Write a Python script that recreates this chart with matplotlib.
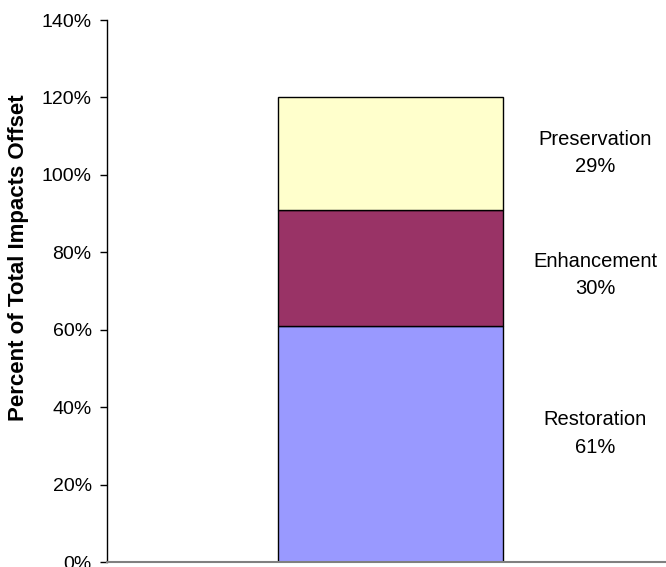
import matplotlib
matplotlib.use("Agg")
import matplotlib.pyplot as plt
from matplotlib.ticker import PercentFormatter

plt.rcParams['font.family'] = ['Liberation Sans', 'DejaVu Sans']

# Share of total impacts offset by mitigation type (stacked bottom to top)
categories = ['Restoration', 'Enhancement', 'Preservation']
shares = [61, 30, 29]
colors = ['#9999FF', '#993366', '#FFFFCC']
# nudge each side label off its segment's midpoint (percentage points)
label_nudge = [2.7, -1.8, 0.2]

fig = plt.figure(figsize=(6.66, 5.67), dpi=100)
ax = fig.add_axes([0.1607, 0.0088, 0.8393, 0.9559])

bottom = 0
for name, val, col, dy in zip(categories, shares, colors, label_nudge):
    ax.bar(0, val, bottom=bottom, width=0.4025, color=col,
           edgecolor='black', linewidth=1.0)
    # label beside each segment
    ax.text(0.366, bottom + val / 2 + dy, f"{name}\n{val}%", ha='center',
            va='center', fontsize=14.5, linespacing=1.55)
    bottom += val

ax.set_xlim(-0.507, 0.493)
ax.set_ylim(0, 140)
ax.set_yticks(range(0, 141, 20))
ax.yaxis.set_major_formatter(PercentFormatter(decimals=0))
ax.tick_params(axis='y', labelsize=14, length=5, width=1, direction='out', pad=6)
ax.set_xticks([])

ax.spines['top'].set_visible(False)
ax.spines['right'].set_visible(False)
ax.spines['bottom'].set_color('#808080')
ax.spines['bottom'].set_linewidth(1.5)
ax.spines['left'].set_linewidth(1)

ax.set_ylabel('Percent of Total Impacts Offset', fontsize=16, fontweight='bold')
ax.yaxis.set_label_coords(-0.139, 0.561)

fig.savefig('out.png', dpi=100)
plt.close(fig)
